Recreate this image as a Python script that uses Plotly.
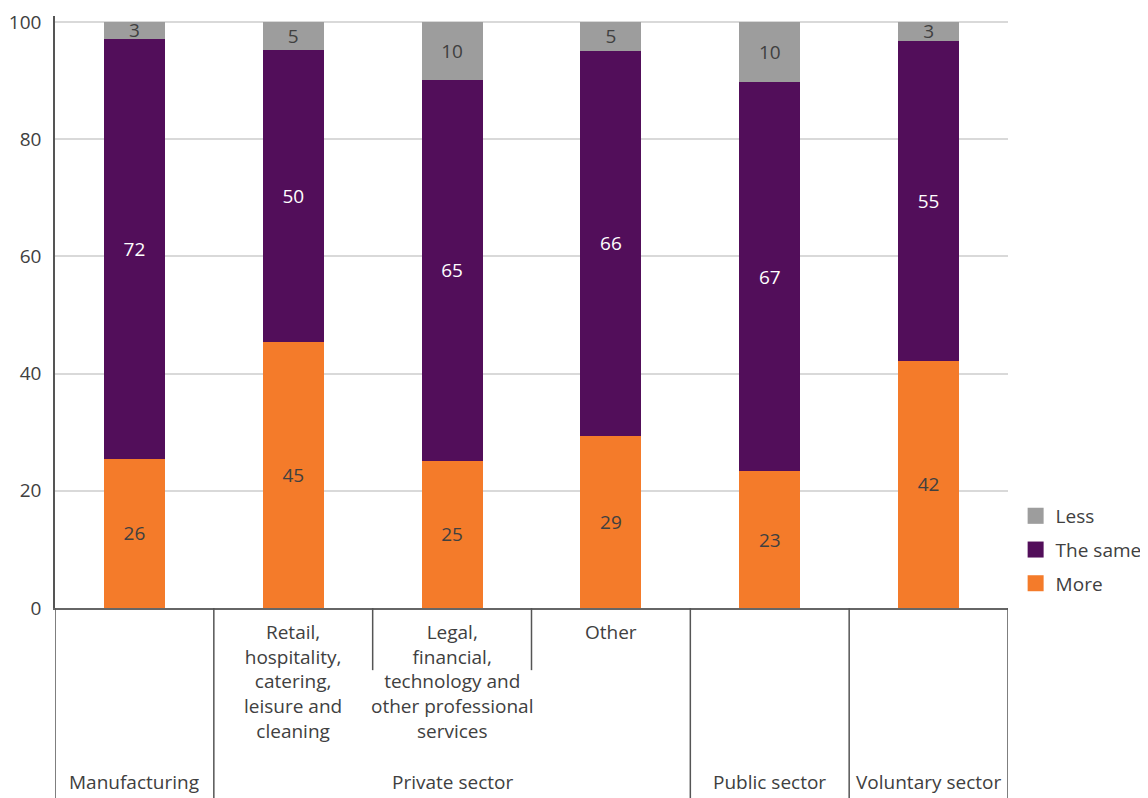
import plotly.graph_objects as go

categories = ["Manufacturing", "Retail", "Legal", "Other", "Public", "Voluntary"]
sub_labels = ["", "Retail,<br>hospitality,<br>catering,<br>leisure and<br>cleaning",
              "Legal,<br>financial,<br>technology and<br>other professional<br>services",
              "Other", "", ""]
group_labels = ["Manufacturing", "Private sector", "Public sector", "Voluntary sector"]
group_centers = [0, 2, 4, 5]

more = [25.5, 45.4, 25.1, 29.4, 23.3, 42.2]
same = [71.6, 49.8, 65.0, 65.7, 66.5, 54.6]
less = [2.9, 4.8, 9.9, 4.9, 10.2, 3.2]
more_lbl = [26, 45, 25, 29, 23, 42]
same_lbl = [72, 50, 65, 66, 67, 55]
less_lbl = [3, 5, 10, 5, 10, 3]

C_MORE = "#F47B2A"
C_SAME = "#520E5A"
C_LESS = "#9D9D9D"
TXT = "#404040"
FONT = "Open Sans"

x = list(range(len(categories)))
fig = go.Figure()
series = [
    ("More", more, more_lbl, C_MORE, TXT),
    ("The same", same, same_lbl, C_SAME, "white"),
    ("Less", less, less_lbl, C_LESS, TXT),
]
for name, vals, lbl, col, tcol in series:
    fig.add_trace(go.Bar(
        x=x, y=vals, name=name, marker=dict(color=col, line=dict(width=0)),
        text=[str(v) for v in lbl], textposition="inside", insidetextanchor="middle",
        textangle=0, insidetextfont=dict(color=tcol, size=19, family=FONT),
        width=0.385, cliponaxis=False, showlegend=False,
    ))
# legend entries with large square swatches (top to bottom: Less, The same, More)
for name, vals, lbl, col, tcol in reversed(series):
    fig.add_trace(go.Scatter(
        x=[None], y=[None], mode="markers", name=name, legendgroup=name,
        marker=dict(symbol="square", size=20, color=col), showlegend=True,
    ))

shapes = []
seps = [(-0.5, -0.325), (0.5, -0.325), (1.5, -0.105), (2.5, -0.105), (3.5, -0.325), (4.5, -0.325), (5.5, -0.325)]
for xs, yb in seps:
    shapes.append(dict(type="line", xref="x", yref="paper", x0=xs, x1=xs, y0=0, y1=yb,
                       line=dict(color="#555555", width=1.5)))

annotations = []
for i, t in enumerate(sub_labels):
    if t:
        annotations.append(dict(x=i, y=-0.015, xref="x", yref="paper", text=t, showarrow=False,
                                yanchor="top", xanchor="center", align="center",
                                font=dict(size=19, color=TXT, family=FONT)))
for c, t in zip(group_centers, group_labels):
    annotations.append(dict(x=c, y=-0.294, xref="x", yref="paper", text=t, showarrow=False,
                            yanchor="middle", xanchor="center",
                            font=dict(size=19, color=TXT, family=FONT)))

fig.update_layout(
    barmode="stack",
    width=1140, height=790,
    margin=dict(l=47, r=140, t=8, b=190, autoexpand=False),
    paper_bgcolor="white", plot_bgcolor="white",
    font=dict(family=FONT, color=TXT, size=19),
    uniformtext=dict(minsize=19, mode="show"),
    xaxis=dict(range=[-0.5, 5.5], showticklabels=False, showgrid=False, zeroline=False,
               showline=True, linecolor="#666666", linewidth=2, ticks="", automargin=False),
    yaxis=dict(range=[0, 101], tickvals=[0, 20, 40, 60, 80, 100], showgrid=True,
               gridcolor="#D9D9D9", gridwidth=2, zeroline=False, showline=True,
               linecolor="#555555", linewidth=1.5, ticks="", ticklabelstandoff=8,
               automargin=False,
               tickfont=dict(size=19, color=TXT, family=FONT)),
    legend=dict(traceorder="grouped", x=1.008, xanchor="left", y=0.098, yanchor="middle",
                font=dict(size=19, color=TXT, family=FONT), itemwidth=30,
                tracegroupgap=6, bgcolor="rgba(0,0,0,0)"),
    shapes=shapes, annotations=annotations, bargap=0.6,
)
fig.write_html("out.html")
